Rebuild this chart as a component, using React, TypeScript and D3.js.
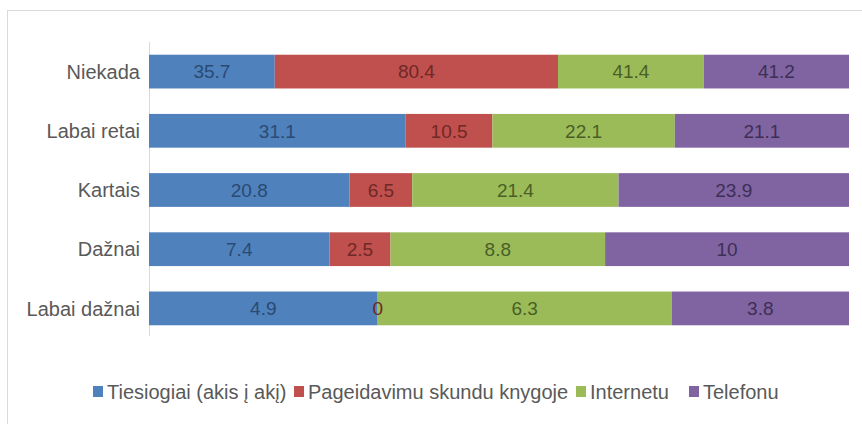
import React from "react";
import * as d3 from "d3";

const categories = ["Niekada", "Labai retai", "Kartais", "Dažnai", "Labai dažnai"];
const seriesNames = ["Tiesiogiai (akis į akį)", "Pageidavimu skundu knygoje", "Internetu", "Telefonu"];
const tiesiogiai = [35.7, 31.1, 20.8, 7.4, 4.9];
const pageidavimu = [80.4, 10.5, 6.5, 2.5, 0];
const internetu = [41.4, 22.1, 21.4, 8.8, 6.3];
const telefonu = [41.2, 21.1, 23.9, 10, 3.8];

const colors = ["#4F81BD", "#C0504D", "#9BBB59", "#8064A2"];
const labelColors = ["#2A4A72", "#6E2826", "#4A5F26", "#3E2E55"];

const width = 862;
const height = 424;
const font = "'Liberation Sans', Arial, sans-serif";

export default function App() {
  const values = [tiesiogiai, pageidavimu, internetu, telefonu];
  const rows = categories.map((c, i) => {
    const r: any = { cat: c };
    seriesNames.forEach((s, j) => (r[s] = values[j][i]));
    return r;
  });
  // 100% stacked
  const stacked = d3.stack<any>().keys(seriesNames).offset(d3.stackOffsetExpand)(rows);

  const x = d3.scaleLinear().domain([0, 1]).range([149, 849]);
  const y = d3.scaleBand().domain(categories).range([42, 338]).paddingInner(0.43).paddingOuter(0.215);

  const legendX = [93, 294, 576, 689];

  return (
    <svg width={width} height={height} style={{ position: "absolute", left: 0, top: 0 }}>
      <rect x={0} y={0} width={width} height={height} fill="#fff" />
      <rect x={7.5} y={10.5} width={width} height={height} fill="none" stroke="#d9d9d9" />
      <line x1={149.5} x2={149.5} y1={42} y2={336} stroke="#d9d9d9" />
      {stacked.map((layer, j) =>
        layer.map((d, i) => (
          <rect key={`${j}-${i}`} x={x(d[0])} y={y(categories[i])!} width={x(d[1]) - x(d[0])} height={y.bandwidth()} fill={colors[j]} />
        ))
      )}
      {stacked.map((layer, j) =>
        layer.map((d, i) => (
          <text
            key={`t${j}-${i}`}
            x={(x(d[0]) + x(d[1])) / 2}
            y={y(categories[i])! + y.bandwidth() / 2}
            dy="0.36em"
            textAnchor="middle"
            fontFamily={font}
            fontSize={19}
            fill={labelColors[j]}
          >
            {values[j][i]}
          </text>
        ))
      )}
      {categories.map((c) => (
        <text key={c} x={140} y={y(c)! + y.bandwidth() / 2} dy="0.36em" textAnchor="end" fontFamily={font} fontSize={20} fill="#595959">
          {c}
        </text>
      ))}
      {seriesNames.map((s, j) => (
        <g key={s} transform={`translate(${legendX[j]},392)`}>
          <rect x={0} y={-6} width={10} height={11} fill={colors[j]} />
          <text x={14} y={0} dy="0.36em" fontFamily={font} fontSize={20} fill="#595959">
            {s}
          </text>
        </g>
      ))}
    </svg>
  );
}
